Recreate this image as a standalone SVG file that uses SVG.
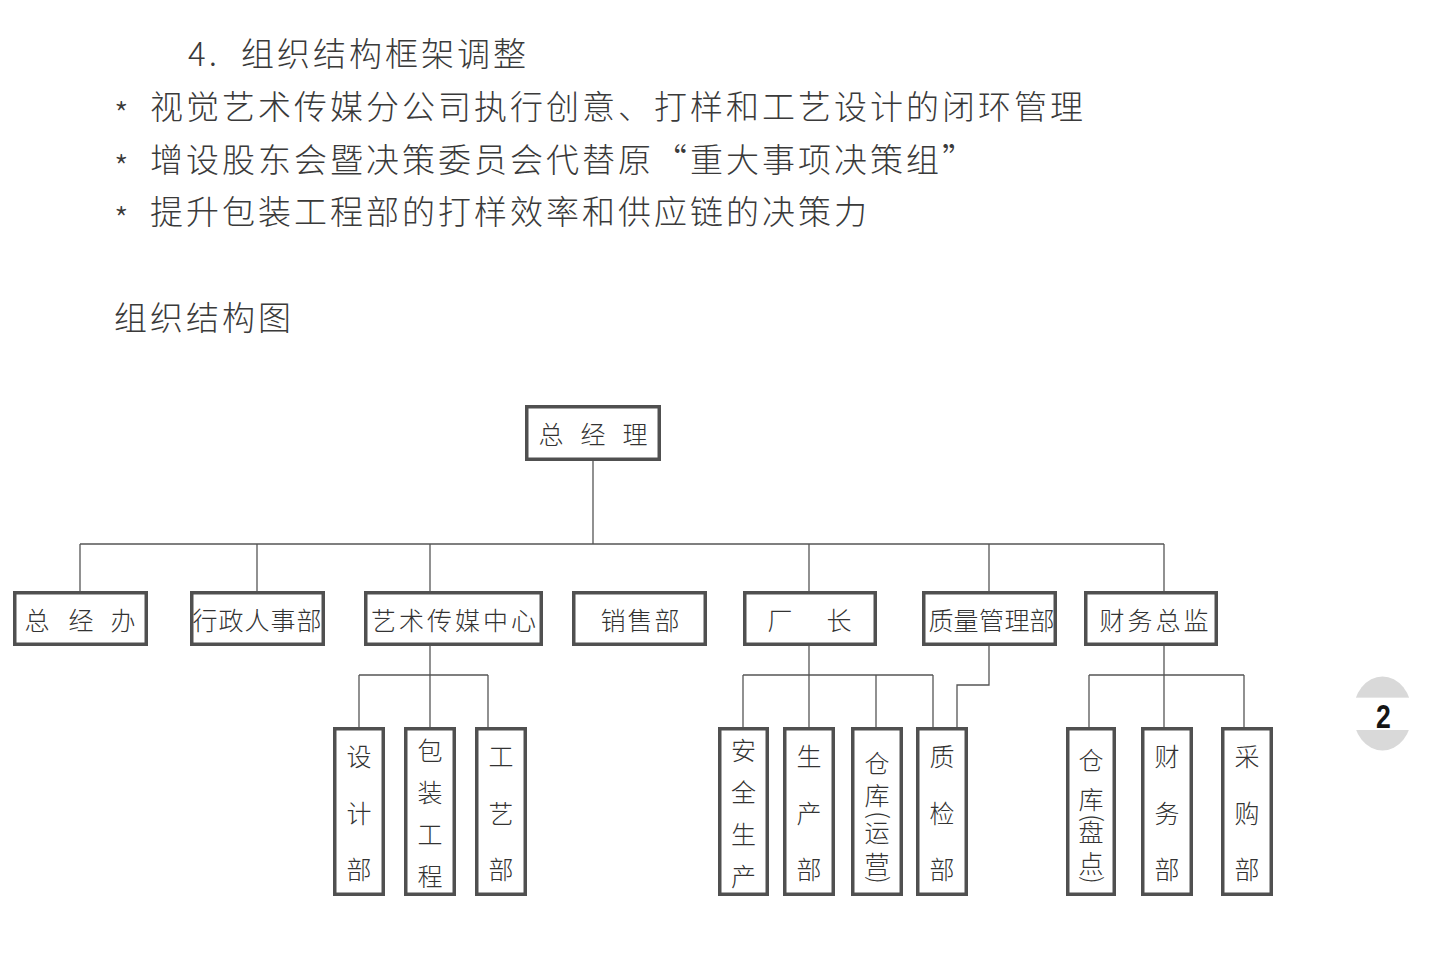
<svg xmlns="http://www.w3.org/2000/svg" width="1438" height="956" viewBox="0 0 1438 956">
<style>
.bg{fill:#fff}
.box{fill:#fff;stroke:#505050;stroke-width:3.5}
.lbl{font-family:"Noto Sans CJK SC","Noto Sans CJK TC",sans-serif;font-size:25px;font-weight:300;fill:#333;text-anchor:middle;dominant-baseline:central}
.hd{font-family:"Noto Sans CJK SC","Noto Sans CJK TC",sans-serif;font-size:33px;font-weight:300;fill:#3a3a3a;letter-spacing:3px}
.ast{font-size:33px;letter-spacing:0}
.conn line,.conn polyline{stroke:#555;stroke-width:1.3;fill:none}
</style>
<rect class="bg" x="0" y="0" width="1438" height="956"/>

<g id="header">
<text class="hd" x="188" y="66">4.<tspan x="241">组织结构框架调整</tspan></text>
<text class="hd" x="114" y="119"><tspan class="ast" dy="8">*</tspan><tspan x="150" dy="-8">视觉艺术传媒分公司执行创意、打样和工艺设计的闭环管理</tspan></text>
<text class="hd" x="114" y="172"><tspan class="ast" dy="8">*</tspan><tspan x="150" dy="-8">增设股东会暨决策委员会代替原“重大事项决策组”</tspan></text>
<text class="hd" x="114" y="224"><tspan class="ast" dy="8">*</tspan><tspan x="150" dy="-8">提升包装工程部的打样效率和供应链的决策力</tspan></text>
<text class="hd" x="114" y="330">组织结构图</text>
</g>

<g class="conn" id="connectors">
<line x1="593" y1="461" x2="593" y2="544"/>
<line x1="80" y1="544" x2="1164" y2="544"/>
<line x1="80" y1="544" x2="80" y2="591"/>
<line x1="257" y1="544" x2="257" y2="591"/>
<line x1="430" y1="544" x2="430" y2="591"/>
<line x1="809" y1="544" x2="809" y2="591"/>
<line x1="989" y1="544" x2="989" y2="591"/>
<line x1="1164" y1="544" x2="1164" y2="591"/>
<line x1="430" y1="646" x2="430" y2="727"/>
<line x1="359" y1="675" x2="488" y2="675"/>
<line x1="359" y1="675" x2="359" y2="727"/>
<line x1="488" y1="675" x2="488" y2="727"/>
<line x1="809" y1="646" x2="809" y2="727"/>
<line x1="743" y1="675" x2="933" y2="675"/>
<line x1="743" y1="675" x2="743" y2="727"/>
<line x1="876" y1="675" x2="876" y2="727"/>
<line x1="933" y1="675" x2="933" y2="727"/>
<polyline points="989,646 989,685 957,685 957,727"/>
<line x1="1164" y1="646" x2="1164" y2="727"/>
<line x1="1089" y1="675" x2="1244" y2="675"/>
<line x1="1089" y1="675" x2="1089" y2="727"/>
<line x1="1244" y1="675" x2="1244" y2="727"/>
</g>

<g id="n-zjl"><rect class="box" x="526.75" y="406.75" width="132.5" height="52.5"/><text class="lbl" x="551 593 635" y="433">总经理</text></g>

<g id="n-zjb"><rect class="box" x="14.75" y="592.75" width="131.5" height="51.5"/><text class="lbl" x="37 81 123" y="619">总经办</text></g>
<g id="n-xzrs"><rect class="box" x="191.75" y="592.75" width="131.5" height="51.5"/><text class="lbl" x="205 231 257 283 309" y="619">行政人事部</text></g>
<g id="n-yscm"><rect class="box" x="365.75" y="592.75" width="175.5" height="51.5"/><text class="lbl" x="383.5 411.5 439.5 467.5 495.5 523.5" y="619">艺术传媒中心</text></g>
<g id="n-xsb"><rect class="box" x="573.75" y="592.75" width="131.5" height="51.5"/><text class="lbl" x="613 640 667" y="619">销售部</text></g>
<g id="n-cz"><rect class="box" x="744.75" y="592.75" width="130.5" height="51.5"/><text class="lbl" x="780 839" y="619">厂长</text></g>
<g id="n-zlgl"><rect class="box" x="923.75" y="592.75" width="131.5" height="51.5"/><text class="lbl" x="941 966 991.5 1017 1042" y="619">质量管理部</text></g>
<g id="n-cwzj"><rect class="box" x="1085.75" y="592.75" width="130.5" height="51.5"/><text class="lbl" x="1112 1140 1168 1196" y="619">财务总监</text></g>

<g id="n-sjb"><rect class="box" x="334.75" y="728.75" width="48.5" height="165.5"/><text class="lbl" x="359 359 359" y="755 812 868">设计部</text></g>
<g id="n-bzgc"><rect class="box" x="405.75" y="728.75" width="48.5" height="165.5"/><text class="lbl" x="430 430 430 430" y="749 791 833 875">包装工程</text></g>
<g id="n-gyb"><rect class="box" x="476.75" y="728.75" width="48.5" height="165.5"/><text class="lbl" x="501 501 501" y="755 812 868">工艺部</text></g>

<g id="n-aqsc"><rect class="box" x="719.75" y="728.75" width="47.5" height="165.5"/><text class="lbl" x="743.5 743.5 743.5 743.5" y="749 791 833 875">安全生产</text></g>
<g id="n-scb"><rect class="box" x="784.75" y="728.75" width="48.5" height="165.5"/><text class="lbl" x="809 809 809" y="755 812 868">生产部</text></g>
<g id="n-ckyy"><rect class="box" x="852.75" y="728.75" width="48.5" height="165.5"/><text class="lbl" x="877 877 873.5 877 877 873.5" y="762 794 800 831 863 865" rotate="0 0 90 0 0 90">仓库(运营)</text></g>
<g id="n-zjb2"><rect class="box" x="917.75" y="728.75" width="48.5" height="165.5"/><text class="lbl" x="942 942 942" y="755 812 868">质检部</text></g>

<g id="n-ckpd"><rect class="box" x="1067.75" y="728.75" width="46.5" height="165.5"/><text class="lbl" x="1091 1091 1087.5 1091 1091 1087.5" y="759 798 803 831 862 865" rotate="0 0 90 0 0 90">仓库(盘点)</text></g>
<g id="n-cwb"><rect class="box" x="1142.75" y="728.75" width="48.5" height="165.5"/><text class="lbl" x="1167 1167 1167" y="755 812 868">财务部</text></g>
<g id="n-cgb"><rect class="box" x="1222.75" y="728.75" width="48.5" height="165.5"/><text class="lbl" x="1247 1247 1247" y="755 812 868">采购部</text></g>

<g id="page-badge">
<ellipse cx="1382.5" cy="713.5" rx="29.5" ry="37" fill="#d9d9d9"/>
<rect x="1350" y="697" width="66" height="33" fill="#fff"/>
<line x1="1356" y1="697.5" x2="1409" y2="697.5" stroke="#e6e6e6" stroke-width="1"/>
<text transform="translate(1383.5 728) scale(0.78 1)" text-anchor="middle" font-family="'Liberation Sans',sans-serif" font-weight="bold" font-size="34" fill="#151515">2</text>
</g>
</svg>
